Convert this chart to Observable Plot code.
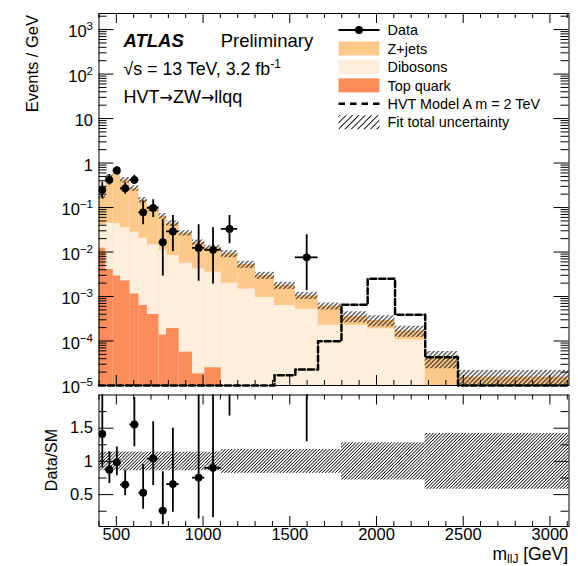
<!DOCTYPE html>
<html><head><meta charset="utf-8">
<script src="https://cdn.jsdelivr.net/npm/d3@7"></script>
<script src="https://cdn.jsdelivr.net/npm/@observablehq/plot@0.6"></script>
<style>
html,body{margin:0;padding:0;background:#fff;}
#wrap{position:relative;width:578px;height:566px;overflow:hidden;font-family:"Liberation Sans",Arial,Helvetica,sans-serif;}
#wrap > svg{position:absolute;left:0;overflow:visible;}
</style></head><body><div id="wrap"></div>
<script>
// ---------------- data ----------------
const binEdges = [400,438,482,524,578,630,679,746,790,862,939,1010,1105,1200,1302,1412,1532,1663,1798,1949,2107,2281,2470,3110];
const topQuark = [0.0122,0.00405,0.00289,0.00225,0.00114,0.000628,0.000394,0.000136,0.000191,0.000056,0.0000183,0.000025,0,0,0,0,0,0,0,0,0,0,0];
const dibosons = [0.0293,0.0404,0.0408,0.0328,0.0268,0.0198,0.0141,0.0107,0.00816,0.00554,0.00417,0.0035,0.00199,0.00147,0.00095,0.000628,0.000519,0.000226,0.000224,0.000188,0.000106,0,0];
const zjets = [0.1355,0.436,0.646,0.38,0.242,0.127,0.0795,0.0532,0.0357,0.0209,0.0122,0.00888,0.0071,0.00377,0.00202,0.00114,0.00053,0.00038,0.000131,0.000101,0.000062,0.000041,0.0000154];
const hvtSignal = [1e-6,1e-6,1e-6,1e-6,1e-6,1e-6,1e-6,1e-6,1e-6,1e-6,1e-6,1e-6,1e-6,1e-6,1e-6,1.7e-5,2.3e-5,9.9e-5,6.5e-4,2.5e-3,3.9e-4,4.3e-5,1e-6];
const fitUnc = [0.14,0.14,0.14,0.14,0.14,0.14,0.14,0.14,0.14,0.14,0.14,0.14,0.18,0.18,0.18,0.18,0.18,0.18,0.28,0.28,0.28,0.42,0.42];

const dataBin  = [0,1,2,3,4,5,6,7,8,10,11,12,16];
const dataY    = [0.25,0.42,0.68,0.27,0.42,0.078,0.098,0.0166,0.029,0.0124,0.0112,0.033,0.0076];
const dataHigh = [0.37,0.55,0.84,0.36,0.53,0.14,0.15,0.054,0.066,0.041,0.035,0.066,0.0244];
const dataLow  = [0.16,0.32,0.54,0.2,0.33,0.041,0.06,0.0029,0.0103,0.0022,0.0019,0.0153,0.00136];

// axis ticks / labels
const xDomain = [400, 3110];
const yDomain = [1e-5, 2300];
const ratioDomain = [0.02, 2];
const xLabelTicks = [500,1000,1500,2000,2500,3000];
const yLabelTicks = [1e-5,1e-4,1e-3,1e-2,1e-1,1,10,100,1000];
const yLabelText  = ["10^−5","10^−4","10^−3","10^−2","10^−1","1","10","10^2","10^3"];
const ratioLabelTicks = [0.5,1,1.5];
const ratioMinorTicks = [0.25,0.75,1.25,1.75];

const colZ = "#fdc98a", colDib = "#feeedb", colTop = "#fc8c59";

// ---------------- derived tables ----------------
const yMin = yDomain[0];
const bins = binEdges.slice(0,-1).map((x1,i)=>({
  x1, x2: binEdges[i+1],
  top: topQuark[i],
  dib: topQuark[i]+dibosons[i],
  tot: topQuark[i]+dibosons[i]+zjets[i],
  sig: hvtSignal[i], unc: fitUnc[i]
}));
const pts = dataBin.map((b,i)=>({
  x1: binEdges[b], x2: binEdges[b+1], xc: (binEdges[b]+binEdges[b+1])/2,
  y: dataY[i], hi: dataHigh[i], lo: dataLow[i],
  r: dataY[i]/bins[b].tot, rhi: dataHigh[i]/bins[b].tot, rlo: dataLow[i]/bins[b].tot
}));
const sigSteps = bins.flatMap(d=>[{x:d.x1,y:Math.max(d.sig,yMin)},{x:d.x2,y:Math.max(d.sig,yMin)}]);

const xMajor = xLabelTicks;
const xMinor = d3.range(400, 3101, 100).filter(v=>!xMajor.includes(v));
const yMajor = yLabelTicks;
const yMinor = [];
for (let e=-5; e<=3; e++) for (let m=2; m<=9; m++) { const v=m*Math.pow(10,e); if (v<yDomain[1]) yMinor.push(v); }

const W = 578, ML = 98.5, MR = 9.5;
const innerW = W-ML-MR;
const H1 = 390, MT1 = 13, MB1 = 5, innerH1 = H1-MT1-MB1;
const H2 = 176, MT2 = 4.5, MB2 = 40, innerH2 = H2-MT2-MB2;

function xTicks(H, maj, min) {
  return [
    Plot.ruleX(xMajor, {insetTop: H-maj, stroke:"black"}),
    Plot.ruleX(xMinor, {insetTop: H-min, stroke:"black"}),
    Plot.ruleX(xMajor, {insetBottom: H-maj, stroke:"black"}),
    Plot.ruleX(xMinor, {insetBottom: H-min, stroke:"black"})
  ];
}
function yTicks(maj, majLen, min, minLen) {
  return [
    Plot.ruleY(maj, {insetRight: innerW-majLen, stroke:"black"}),
    Plot.ruleY(min, {insetRight: innerW-minLen, stroke:"black"}),
    Plot.ruleY(maj, {insetLeft: innerW-majLen, stroke:"black"}),
    Plot.ruleY(min, {insetLeft: innerW-minLen, stroke:"black"})
  ];
}

const fontFamily = '"Liberation Sans", Arial, Helvetica, sans-serif';

// ---------------- top panel ----------------
const topPlot = Plot.plot({
  width: W, height: H1,
  marginLeft: ML, marginRight: MR, marginTop: MT1, marginBottom: MB1,
  style: {fontFamily, fontSize: "16.5px", background: "transparent", color: "black", overflow: "visible"},
  x: {domain: xDomain, axis: null},
  y: {type: "log", domain: yDomain},
  marks: [
    Plot.rectY(bins.filter(d=>d.tot>yMin), {x1:"x1", x2:"x2", y1: yMin, y2:"tot", fill: colZ}),
    Plot.rectY(bins.filter(d=>d.dib>yMin), {x1:"x1", x2:"x2", y1: yMin, y2:"dib", fill: colDib}),
    Plot.rectY(bins.filter(d=>d.top>yMin), {x1:"x1", x2:"x2", y1: yMin, y2:"top", fill: colTop}),
    Plot.rectY(bins, {x1:"x1", x2:"x2", y1: d=>Math.max(d.tot*(1-d.unc), yMin), y2: d=>d.tot*(1+d.unc), fill: "url(#hatchTop)"}),
    Plot.line(sigSteps, {x:"x", y:"y", stroke:"black", strokeWidth: 2.5, strokeDasharray: "6,3"}),
    Plot.ruleX(pts, {x:"xc", y1:"lo", y2:"hi", stroke:"black", strokeWidth: 1.8, clip: true}),
    Plot.ruleY(pts, {y:"y", x1:"x1", x2:"x2", stroke:"black", strokeWidth: 1.8, clip: true}),
    Plot.dot(pts, {x:"xc", y:"y", r: 3.9, fill:"black", stroke: "none"}),
    ...xTicks(innerH1, 10, 5),
    ...yTicks(yMajor, 15, yMinor, 8),
    Plot.axisY(yLabelTicks, {tickSize: 0, tickPadding: 6, dy: 2.5, fontSize: 16.5, tickFormat: (d)=>yLabelText[yLabelTicks.indexOf(d)], label: null}),
    Plot.frame({stroke:"black", strokeWidth: 1})
  ]
});

// ---------------- ratio panel ----------------
const botPlot = Plot.plot({
  width: W, height: H2,
  marginLeft: ML, marginRight: MR, marginTop: MT2, marginBottom: MB2,
  style: {fontFamily, fontSize: "16.5px", background: "transparent", color: "black", overflow: "visible"},
  x: {domain: xDomain},
  y: {domain: ratioDomain},
  marks: [
    Plot.rectY(bins, {x1:"x1", x2:"x2", y1: d=>1-d.unc, y2: d=>1+d.unc, fill: "url(#hatchRatio)", clip: true}),
    Plot.ruleX(pts, {x:"xc", y1:"rlo", y2:"rhi", stroke:"black", strokeWidth: 1.8, clip: true}),
    Plot.ruleY(pts, {y:"r", x1:"x1", x2:"x2", stroke:"black", strokeWidth: 1.8, clip: true}),
    Plot.dot(pts, {x:"xc", y:"r", r: 3.9, fill:"black", stroke:"none", clip: true}),
    ...xTicks(innerH2, 10, 5),
    ...yTicks(ratioLabelTicks, 15, ratioMinorTicks, 8),
    Plot.axisX(xLabelTicks, {tickSize: 0, tickPadding: 2, fontSize: 16.5, tickFormat: d=>String(d), label: null}),
    Plot.axisY(ratioLabelTicks, {tickSize: 0, tickPadding: 6, fontSize: 16.5, tickFormat: d=>String(d), label: null}),
    Plot.frame({stroke:"black", strokeWidth: 1})
  ]
});

const NS = "http://www.w3.org/2000/svg";
function addPattern(svg, id, s, sw) {
  let defs = svg.querySelector("defs");
  if (!defs) { defs = document.createElementNS(NS, "defs"); svg.insertBefore(defs, svg.firstChild); }
  const p = document.createElementNS(NS, "pattern");
  p.setAttribute("id", id); p.setAttribute("patternUnits", "userSpaceOnUse");
  p.setAttribute("width", s); p.setAttribute("height", s);
  p.setAttribute("patternTransform", "rotate(45)");
  const l = document.createElementNS(NS, "line");
  l.setAttribute("x1", s/2); l.setAttribute("x2", s/2); l.setAttribute("y1", -1); l.setAttribute("y2", s+1);
  l.setAttribute("stroke", "black"); l.setAttribute("stroke-width", sw);
  p.appendChild(l); defs.appendChild(p);
}
addPattern(topPlot, "hatchTop", 3.2, 0.9);
addPattern(botPlot, "hatchRatio", 2.3, 0.75);

// superscripts on log tick labels
topPlot.querySelectorAll("text").forEach(t=>{
  const m = t.textContent.match(/^10\^(.+)$/);
  if (m) {
    t.textContent = "10";
    const ts = document.createElementNS(NS, "tspan");
    ts.setAttribute("dy", "-7"); ts.setAttribute("font-size", "11.5");
    ts.textContent = m[1];
    t.appendChild(ts);
  }
});

const wrap = document.getElementById("wrap");
topPlot.style.top = "0px";
botPlot.style.top = H1 + "px";
wrap.appendChild(topPlot);
wrap.appendChild(botPlot);

// ---------------- overlay: titles, labels, legend ----------------
const ov = d3.create("svg").attr("width", W).attr("height", 566)
  .attr("font-family", fontFamily).style("top","0px").style("pointer-events","none");
addPattern(ov.node(), "hatchLeg", 4.5, 0.9);

ov.append("text").attr("transform","translate(37.5,15) rotate(-90)").attr("text-anchor","end")
  .attr("font-size", 16.5).text("Events / GeV");
ov.append("text").attr("transform","translate(56.5,460) rotate(-90)").attr("text-anchor","middle")
  .attr("font-size", 16).text("Data/SM");
const xt = ov.append("text").attr("x", 568).attr("y", 559.5).attr("text-anchor","end").attr("font-size", 17.5);
xt.append("tspan").text("m");
xt.append("tspan").attr("font-size", 12).attr("dy", 3.5).text("llJ");
xt.append("tspan").attr("dy", -3.5).text(" [GeV]");

ov.append("text").attr("x",123.5).attr("y",46.7).attr("font-size",18.5).attr("font-weight","bold").attr("font-style","italic").text("ATLAS");
ov.append("text").attr("x",220.7).attr("y",46.7).attr("font-size",18.5).text("Preliminary");
const en = ov.append("text").attr("x",123.5).attr("y",75).attr("font-size",17.8);
en.append("tspan").text("√s = 13 TeV, 3.2 fb");
en.append("tspan").attr("font-size",12).attr("dy",-7).text("-1");
const hv = ov.append("text").attr("x",123.5).attr("y",103.3).attr("font-size",18);
hv.append("tspan").text("HVT");
hv.append("tspan").attr("font-family","DejaVu Sans").attr("font-size",16).text("→");
hv.append("tspan").text("ZW");
hv.append("tspan").attr("font-family","DejaVu Sans").attr("font-size",16).text("→");
hv.append("tspan").text("llqq");

const legItems = ["Data","Z+jets","Dibosons","Top quark","HVT Model A m = 2 TeV","Fit total uncertainty"];
const legX0 = 338.5, legX1 = 379.5, legTx = 387.5, legY0 = 30, legDy = 18.45;
legItems.forEach((name,i)=>{
  const cy = legY0 + i*legDy;
  const g = ov.append("g");
  if (i===0) {
    g.append("line").attr("x1",legX0).attr("x2",legX1).attr("y1",cy).attr("y2",cy).attr("stroke","black").attr("stroke-width",1.8);
    g.append("circle").attr("cx",(legX0+legX1)/2).attr("cy",cy).attr("r",3.9).attr("fill","black");
  } else if (i<=3) {
    g.append("rect").attr("x",legX0).attr("y",cy-7).attr("width",legX1-legX0).attr("height",14)
      .attr("fill",[null,colZ,colDib,colTop][i]);
  } else if (i===4) {
    g.append("line").attr("x1",legX0).attr("x2",legX1).attr("y1",cy).attr("y2",cy).attr("stroke","black")
      .attr("stroke-width",2.5).attr("stroke-dasharray","6.5,5");
  } else {
    g.append("rect").attr("x",legX0).attr("y",cy-7).attr("width",legX1-legX0).attr("height",14).attr("fill","url(#hatchLeg)");
  }
  g.append("text").attr("x",legTx).attr("y",cy+5.2).attr("font-size",14.4).text(name);
});
wrap.appendChild(ov.node());
</script></body></html>
